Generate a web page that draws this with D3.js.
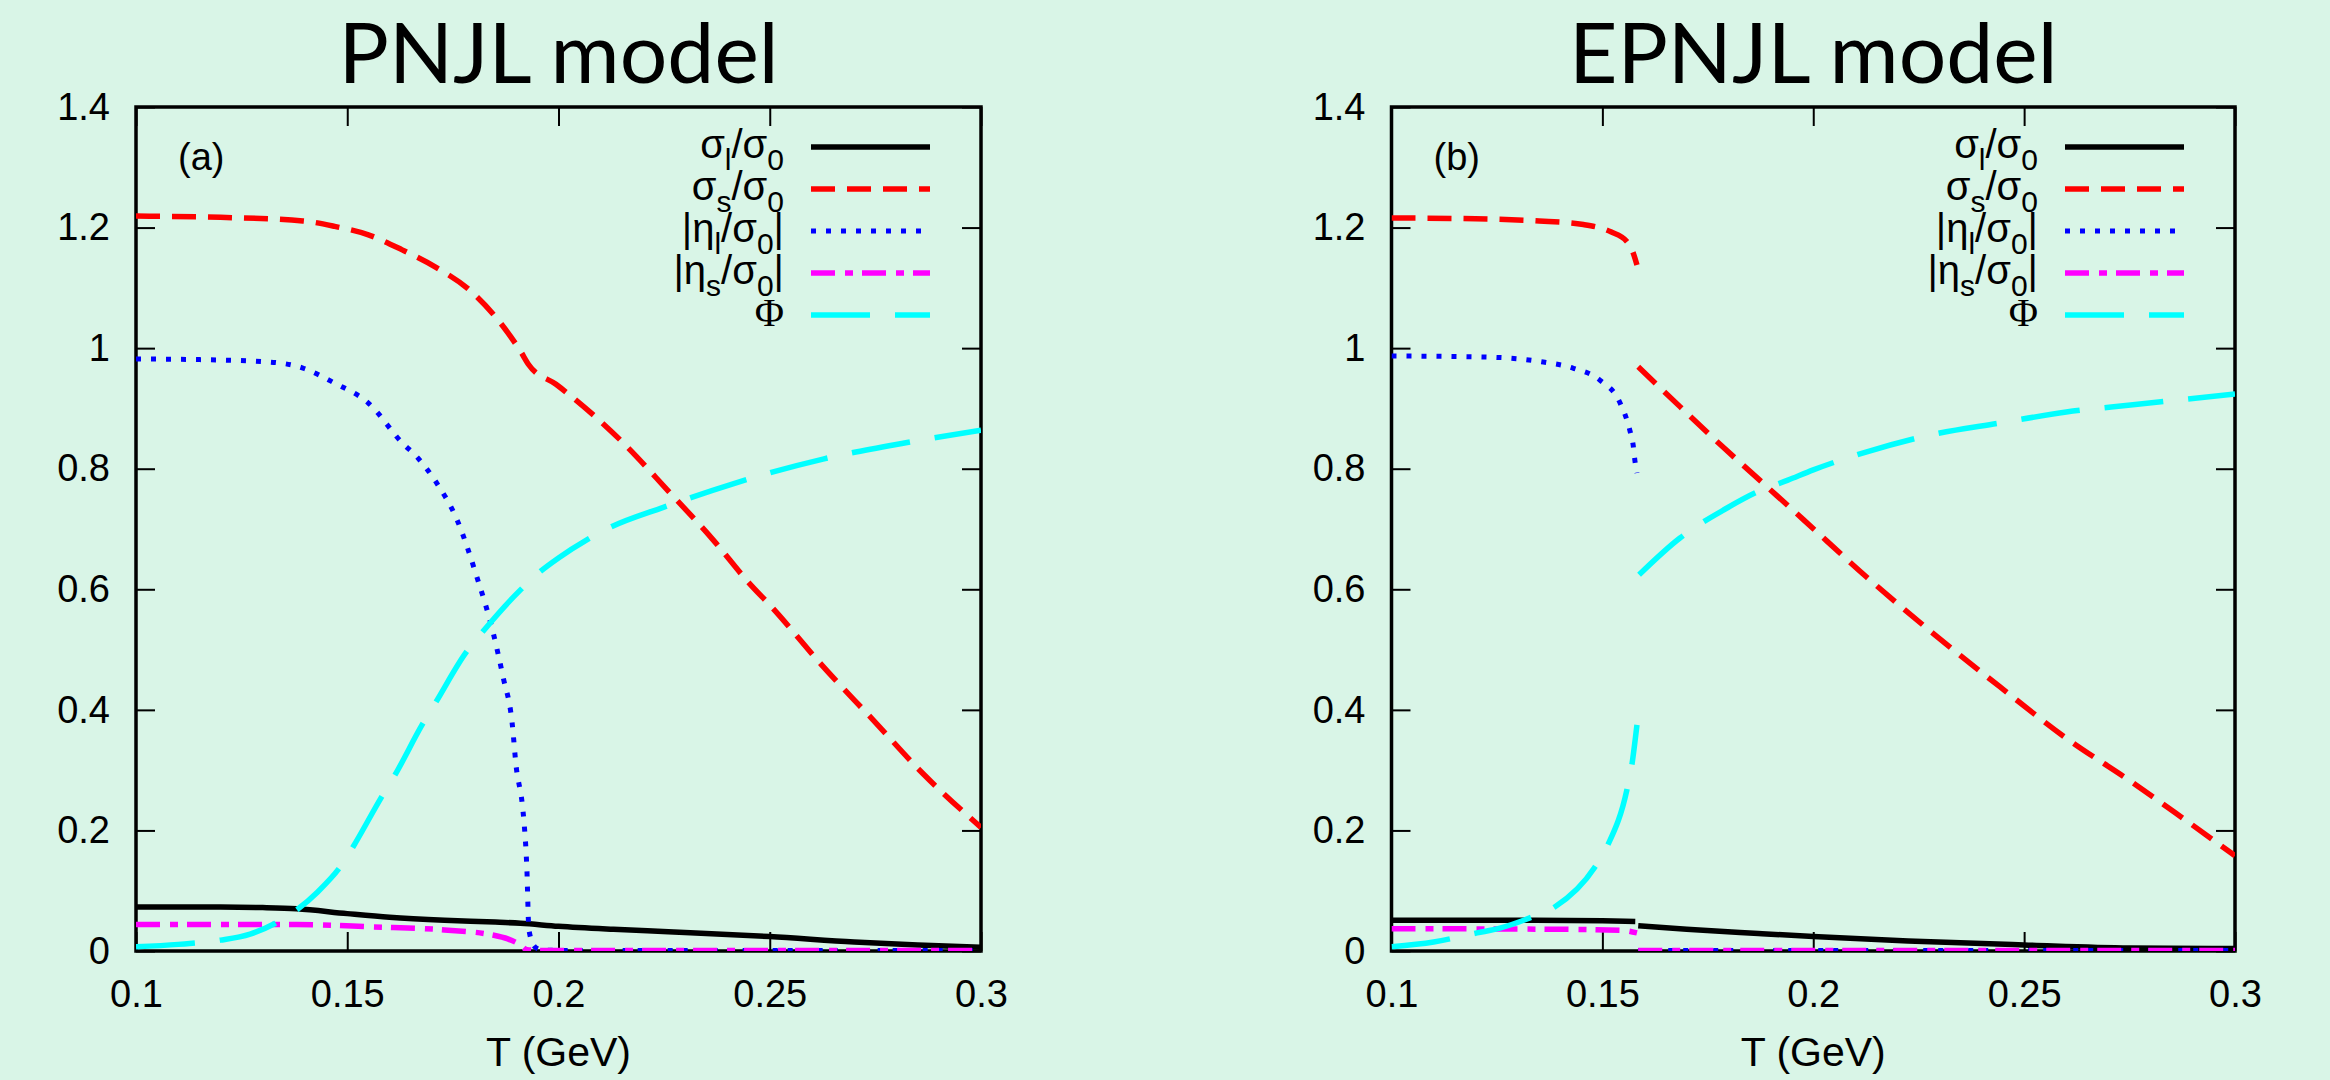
<!DOCTYPE html>
<html>
<head>
<meta charset="utf-8">
<script src="https://cdn.jsdelivr.net/npm/d3@7"></script>
<style>
body{margin:0;background:#d9f5e7;}
svg{display:block;}
.axis text{font-family:"Liberation Sans",Arial,sans-serif;font-size:38px;fill:#000;}
.axis line{stroke:#000;stroke-width:2;}
.axis .domain{display:none;}
.title{font-family:Lato,sans-serif;font-size:84px;fill:#000;}
.tag{font-family:"Liberation Sans",Arial,sans-serif;font-size:38px;fill:#000;}
.xlabel{font-family:"Liberation Sans",Arial,sans-serif;font-size:41px;fill:#000;}
.legend text{font-family:"Liberation Sans",Arial,sans-serif;fill:#000;}
</style>
</head>
<body>
<svg id="chart" width="2330" height="1080"></svg>
<script>
//ticks
const xTicks = [0.1,0.15,0.2,0.25,0.3];
const yTicks = [0,0.2,0.4,0.6,0.8,1,1.2,1.4];

//PNJL model, [T (GeV), value]
const pnjlSigmaL = [[0.1,0.073],[0.12,0.073],[0.13,0.072],[0.138,0.070],[0.15,0.062],[0.16,0.056],[0.173,0.051],
	[0.185,0.048],[0.191,0.046],[0.2,0.041],[0.213,0.036],[0.226,0.032],[0.25,0.024],[0.27,0.015],[0.285,0.010],[0.3,0.006]];
const pnjlSigmaS = [[0.1,1.219],[0.12,1.217],[0.1395,1.211],[0.147,1.202],[0.155,1.188],[0.163,1.163],[0.171,1.134],
	[0.179,1.096],[0.187,1.035],[0.191,0.995],[0.193,0.972],[0.1994,0.940],[0.2153,0.843],[0.226,0.763],[0.2366,0.682],
	[0.2449,0.612],[0.2508,0.568],[0.2626,0.472],[0.2745,0.383],[0.2863,0.294],[0.3,0.205]];
const pnjlEtaL = [[0.1,0.982],[0.115,0.981],[0.1315,0.977],[0.1395,0.967],[0.147,0.942],[0.155,0.909],[0.163,0.843],
	[0.1667,0.818],[0.171,0.778],[0.176,0.715],[0.1807,0.620],[0.1845,0.529],[0.1869,0.454],[0.189,0.380],[0.190,0.305],
	[0.1914,0.245],[0.1918,0.217],[0.1925,0.139],[0.193,0.035],[0.1944,0.007],[0.196,0.002],[0.2,0.001],[0.3,0.001]];
const pnjlEtaS = [[0.1,0.044],[0.138,0.044],[0.156,0.040],[0.173,0.035],[0.184,0.027],[0.188,0.020],[0.191,0.010],
	[0.1926,0.002],[0.196,0.001],[0.3,0.001]];
const pnjlPhi = [[0.1,0.007],[0.11,0.011],[0.12,0.018],[0.127,0.028],[0.133,0.046],[0.138,0.068],[0.143,0.098],
	[0.149,0.146],[0.1514,0.173],[0.158,0.254],[0.1613,0.292],[0.1677,0.375],[0.171,0.413],[0.178,0.494],[0.182,0.529],
	[0.191,0.599],[0.1956,0.629],[0.2,0.652],[0.2067,0.682],[0.212,0.702],[0.2248,0.736],[0.2413,0.775],[0.2626,0.816],
	[0.2822,0.843],[0.3,0.864]];

//EPNJL model, null = jump (first order transition)
const epnjlSigmaL = [[0.1,0.051],[0.13,0.051],[0.15,0.050],[0.1578,0.049],null,
	[0.1585,0.042],[0.17,0.036],[0.187,0.029],[0.2,0.024],[0.2225,0.0165],[0.25,0.010],[0.275,0.005],[0.3,0.004]];
const epnjlSigmaS = [[0.1,1.216],[0.1234,1.214],[0.135,1.211],[0.1455,1.205],[0.152,1.193],[0.1558,1.177],
	[0.1572,1.160],[0.1582,1.138],null,
	[0.1585,0.969],[0.1684,0.903],[0.1786,0.836],[0.1881,0.776],[0.1976,0.716],[0.2127,0.620],[0.2284,0.527],
	[0.2443,0.438],[0.26,0.353],[0.2758,0.279],[0.2877,0.220],[0.3,0.158]];
const epnjlEtaL = [[0.1,0.987],[0.1234,0.985],[0.136,0.977],[0.143,0.967],[0.1494,0.947],[0.1542,0.909],
	[0.1565,0.864],[0.1573,0.839],[0.1577,0.814],[0.1582,0.793],null,[0.1585,0.001],[0.3,0.001]];
const epnjlEtaS = [[0.1,0.037],[0.14,0.036],[0.155,0.034],[0.1582,0.030],null,[0.1585,0.001],[0.3,0.001]];
const epnjlPhi = [[0.1,0.007],[0.11,0.015],[0.1203,0.030],[0.1257,0.038],[0.1328,0.055],[0.1387,0.073],[0.1482,0.139],
	[0.1513,0.176],[0.1558,0.267],[0.157,0.309],[0.1582,0.375],null,
	[0.1587,0.624],[0.1684,0.685],[0.174,0.712],[0.1786,0.731],[0.1866,0.761],[0.194,0.781],[0.2,0.798],[0.2127,0.828],
	[0.2284,0.857],[0.2443,0.876],[0.26,0.894],[0.2758,0.906],[0.3,0.924]];

//legend text pieces: [text, subscript?, serif?]
const legendLabels = [
	[['σ'],['l',1],['/σ'],['0',1]],
	[['σ'],['s',1],['/σ'],['0',1]],
	[['|η'],['l',1],['/σ'],['0',1],['|']],
	[['|η'],['s',1],['/σ'],['0',1],['|']],
	[['Φ',0,1]]
];

//line styles, same order as legend
const styles = [
	{color:'#000000', dash:null, width:5.5},
	{color:'#ff0000', dash:'24 12', width:5.5},
	{color:'#0000ff', dash:'5 10', width:5},
	{color:'#ff00ff', dash:'24 10 8 9', width:5.5},
	{color:'#00ffff', dash:'59 25', width:5.5}
];

function Panel(){
	//factory function
	let _title = '';
	let _tag = '';
	let _series = [];

	function exports(root, box){
		const w = box.r - box.l;
		const h = box.b - box.t;
		const id = 'clip' + _tag.replace(/\W/g,'');

		const scaleX = d3.scaleLinear().domain([0.1,0.3]).range([0,w]);
		const scaleY = d3.scaleLinear().domain([0,1.4]).range([h,0]);

		const g = root.append('g').attr('transform',`translate(${box.l},${box.t})`);

		g.append('text').attr('class','title')
			.attr('x', w/2).attr('y', 83 - box.t)
			.attr('text-anchor','middle')
			.text(_title);

		g.append('clipPath').attr('id',id)
			.append('rect').attr('x',0).attr('y',0).attr('width',w).attr('height',h);

		//frame
		g.append('rect')
			.attr('width',w).attr('height',h)
			.style('fill','none').style('stroke','#000').style('stroke-width',3.5);

		//axes, ticks pointing inward
		const fmt = d => String(+d.toFixed(2));
		g.append('g').attr('class','axis')
			.call(d3.axisLeft(scaleY).tickValues(yTicks).tickSize(-19).tickPadding(26).tickFormat(fmt));
		g.append('g').attr('class','axis')
			.attr('transform',`translate(${w},0)`)
			.call(d3.axisRight(scaleY).tickValues(yTicks).tickSize(-19).tickFormat(''));
		g.append('g').attr('class','axis')
			.attr('transform',`translate(0,${h})`)
			.call(d3.axisBottom(scaleX).tickValues(xTicks).tickSize(-19).tickPadding(29).tickFormat(fmt));
		g.append('g').attr('class','axis')
			.call(d3.axisTop(scaleX).tickValues(xTicks).tickSize(-19).tickFormat(''));

		g.append('text').attr('class','xlabel')
			.attr('x', w/2).attr('y', h + 115)
			.attr('text-anchor','middle')
			.text('T (GeV)');

		g.append('text').attr('class','tag')
			.attr('x', 42).attr('y', 63)
			.text(_tag);

		//curves
		const line = d3.line()
			.defined(d => d)
			.x(d => scaleX(d[0]))
			.y(d => scaleY(d[1]))
			.curve(d3.curveMonotoneX);

		g.append('g').attr('clip-path',`url(#${id})`)
			.selectAll('.curve')
			.data(_series)
			.enter()
			.append('path')
			.attr('class','curve')
			.attr('d', d => line(d))
			.style('fill','none')
			.style('stroke', (d,i) => styles[i].color)
			.style('stroke-width', (d,i) => styles[i].width)
			.style('stroke-dasharray', (d,i) => styles[i].dash);

		//legend
		const legend = g.append('g').attr('class','legend')
			.attr('transform',`translate(${w},40)`);
		const rows = legend.selectAll('.row')
			.data(legendLabels)
			.enter()
			.append('g')
			.attr('class','row')
			.attr('transform',(d,i) => `translate(0,${i*42})`);

		rows.append('line')
			.attr('x1',-170).attr('x2',-51)
			.attr('y1',0).attr('y2',0)
			.style('stroke', (d,i) => styles[i].color)
			.style('stroke-width', (d,i) => styles[i].width)
			.style('stroke-dasharray', (d,i) => styles[i].dash);

		rows.each(function(parts){
			const text = d3.select(this).append('text')
				.attr('x',-197).attr('y',11)
				.attr('text-anchor','end');
			let shift = 0;
			parts.forEach(p => {
				const next = p[1] ? 12 : 0;
				text.append('tspan')
					.attr('dy', next - shift)
					.style('font-size', p[1] ? '30px' : '40px')
					.style('font-family', p[2] ? '"Liberation Serif",serif' : null)
					.text(p[0]);
				shift = next;
			});
		});
	}

	exports.title = function(_){
		if(typeof _ === 'undefined') return _title;
		_title = _;
		return this;
	}

	exports.tag = function(_){
		if(typeof _ === 'undefined') return _tag;
		_tag = _;
		return this;
	}

	exports.series = function(_){
		if(typeof _ === 'undefined') return _series;
		_series = _;
		return this;
	}

	return exports;
}

const svg = d3.select('#chart');

Panel()
	.title('PNJL model')
	.tag('(a)')
	.series([pnjlSigmaL, pnjlSigmaS, pnjlEtaL, pnjlEtaS, pnjlPhi])(svg, {l:136, r:981, t:107, b:951});

Panel()
	.title('EPNJL model')
	.tag('(b)')
	.series([epnjlSigmaL, epnjlSigmaS, epnjlEtaL, epnjlEtaS, epnjlPhi])(svg, {l:1391.5, r:2235, t:107, b:951});
</script>
</body>
</html>
